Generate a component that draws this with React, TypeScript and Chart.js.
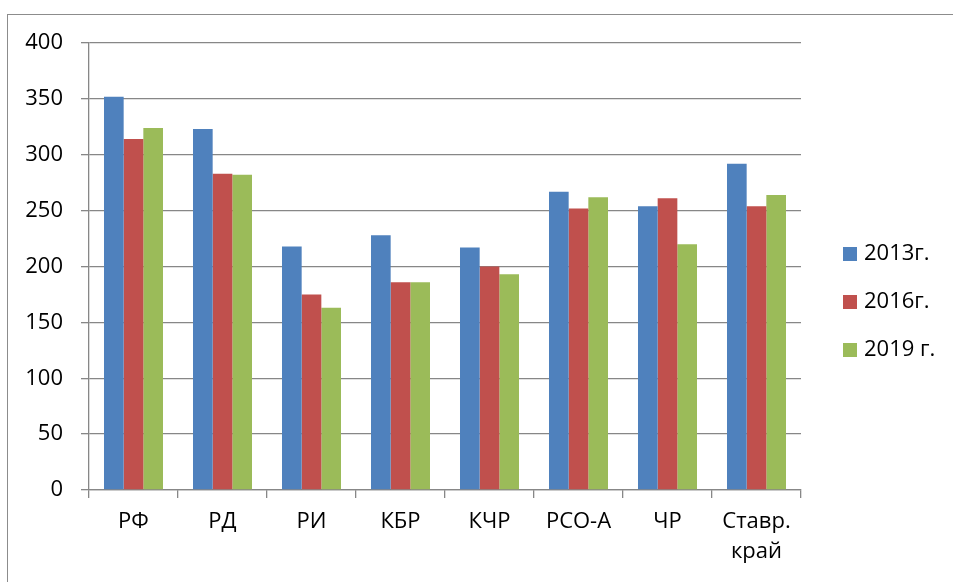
import React, { useEffect, useRef } from "react";
import { Chart, registerables } from "chart.js";

Chart.register(...registerables);

const categories: (string | string[])[] = ["РФ", "РД", "РИ", "КБР", "КЧР", "РСО-А", "ЧР", ["Ставр.", "край"]];
const seriesLabels = ["2013г.", "2016г.", "2019 г."];
const values2013 = [352, 323, 218, 228, 217, 267, 254, 292];
const values2016 = [314, 283, 175, 186, 200, 252, 261, 254];
const values2019 = [324, 282, 163, 186, 193, 262, 220, 264];
const seriesColors = ["#4F81BD", "#C0504D", "#9BBB59"];
const yTicks = [0, 50, 100, 150, 200, 250, 300, 350, 400];

const FONT = "'Open Sans', 'Noto Sans', sans-serif";
const GRID = "#878787";

const framePlugin = {
  id: "frameAndLegend",
  beforeDraw(chart: any) {
    const ctx = chart.ctx;
    ctx.save();
    ctx.fillStyle = "#ffffff";
    ctx.fillRect(0, 0, chart.width, chart.height);
    ctx.strokeStyle = "#8c8c8c";
    ctx.lineWidth = 1;
    ctx.strokeRect(7.5, 14.5, chart.width + 20, chart.height + 20);
    ctx.restore();
  },
  afterDraw(chart: any) {
    const ctx = chart.ctx;
    ctx.save();
    ctx.font = `22px ${FONT}`;
    ctx.textBaseline = "middle";
    ctx.textAlign = "left";
    chart.data.datasets.forEach((ds: any, i: number) => {
      const cy = 254 + i * 48;
      ctx.fillStyle = ds.backgroundColor;
      ctx.fillRect(843, cy - 7, 14, 14);
      ctx.fillStyle = "#000000";
      ctx.fillText(ds.label, 864, cy);
    });
    ctx.restore();
  },
};

export default function App() {
  const ref = useRef<HTMLCanvasElement | null>(null);

  useEffect(() => {
    if (!ref.current) return;
    const chart = new Chart(ref.current, {
      type: "bar",
      data: {
        labels: categories,
        datasets: [values2013, values2016, values2019].map((v, i) => ({
          label: seriesLabels[i],
          data: v,
          backgroundColor: seriesColors[i],
          borderWidth: 0,
          categoryPercentage: 0.663,
          barPercentage: 1.0,
        })),
      },
      options: {
        animation: false,
        responsive: true,
        maintainAspectRatio: false,
        layout: { padding: { left: 0, top: 43, right: 152, bottom: 0 } },
        plugins: {
          legend: { display: false },
          tooltip: { enabled: false },
        },
        scales: {
          x: {
            afterFit: (s: any) => {
              s.height = 92;
            },
            grid: {
              display: true,
              drawOnChartArea: false,
              drawTicks: true,
              tickLength: 8,
              color: GRID,
              lineWidth: 1.3,
              offset: true,
            },
            border: { display: true, color: GRID, width: 1.3 },
            ticks: {
              color: "#000000",
              font: { family: FONT, size: 22, lineHeight: 1.4 },
              padding: 8,
              maxRotation: 0,
              autoSkip: false,
            },
          },
          y: {
            min: 0,
            max: 400,
            afterFit: (s: any) => {
              s.width = 89;
            },
            afterBuildTicks: (s: any) => {
              s.ticks = yTicks.map((v) => ({ value: v }));
            },
            grid: {
              color: GRID,
              lineWidth: 1.3,
              tickLength: 8,
              drawTicks: true,
            },
            border: { display: true, color: GRID, width: 1.3 },
            ticks: {
              color: "#000000",
              font: { family: FONT, size: 22 },
              padding: 18,
            },
          },
        },
      },
      plugins: [framePlugin],
    });
    return () => chart.destroy();
  }, []);

  return (
    <div style={{ position: "absolute", left: 0, top: 0, width: 953, height: 582 }}>
      <canvas ref={ref} style={{ width: "100%", height: "100%" }} />
    </div>
  );
}
